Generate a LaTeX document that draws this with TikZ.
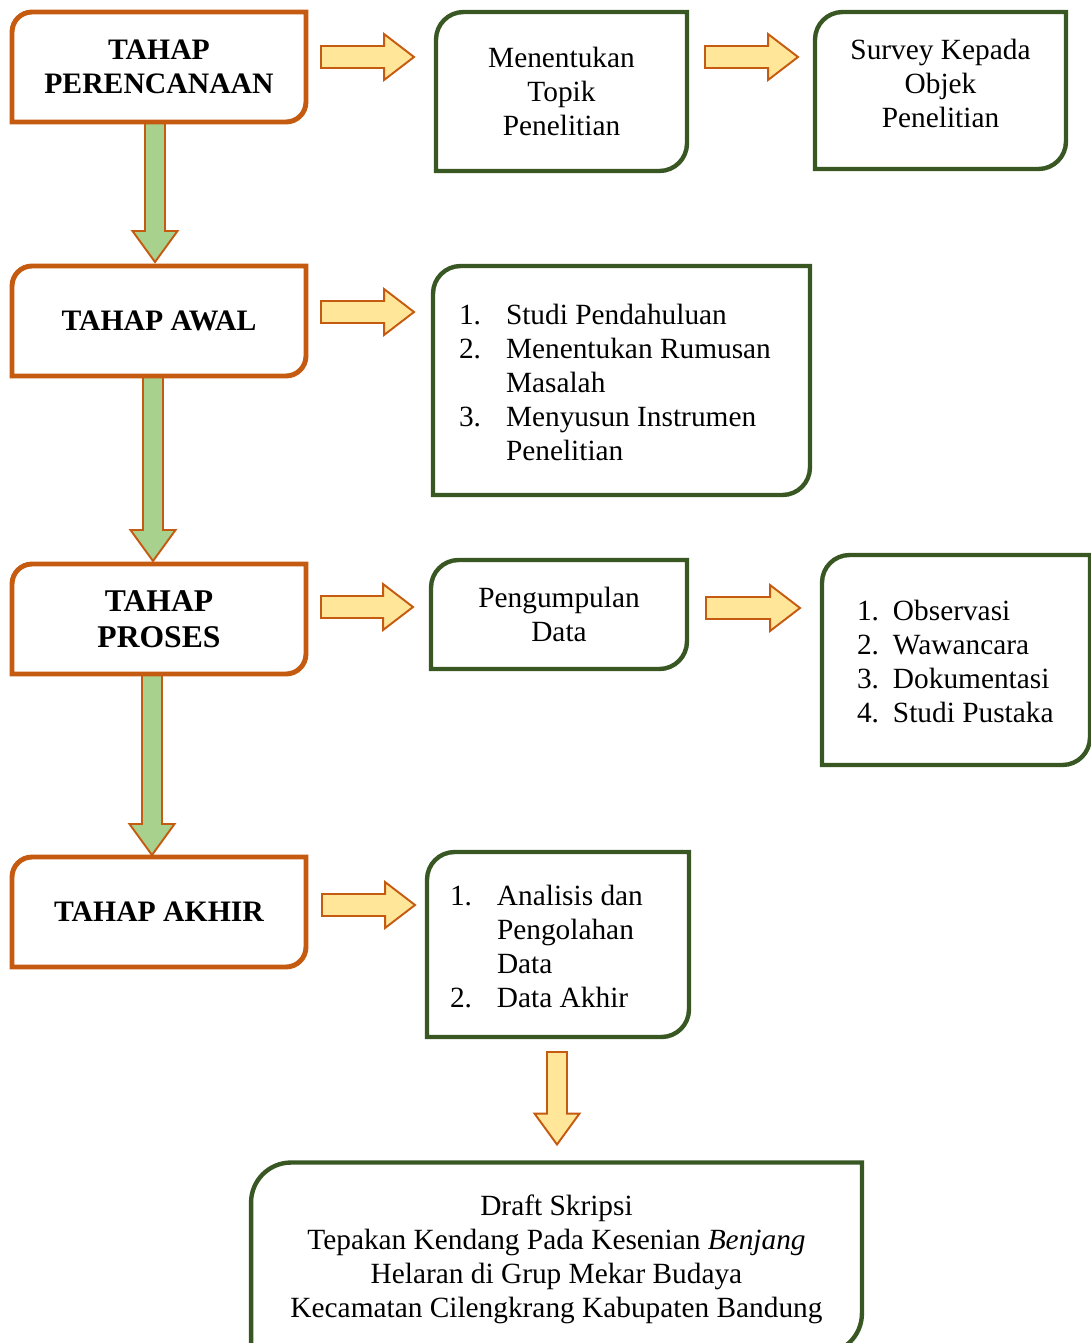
\documentclass[tikz,border=0pt]{standalone}
\usepackage{fontspec}
\setmainfont{Liberation Serif}
\usetikzlibrary{calc}

\definecolor{boxorange}{HTML}{C55A11}
\definecolor{boxgreen}{HTML}{385723}
\definecolor{arrowyellow}{HTML}{FFE699}
\definecolor{arrowgreen}{HTML}{A9D18E}

% box outline: round top left and bottom right corners
\newcommand\cornerbox[3]{%
  \draw[#2] (#1.south west) -- ([yshift=-#3]#1.north west)
    arc[start angle=180,end angle=90,radius=#3] -- (#1.north east)
    -- ([yshift=#3]#1.south east)
    arc[start angle=0,end angle=-90,radius=#3] -- cycle;}
% block arrow to the right (y of start, x of end)
\newcommand\harrow[3]{%
  \draw[#1] let \p1=(#2), \p2=(#3) in
    (\x1,\y1+0.22cm) -- (\x2-0.6cm,\y1+0.22cm) -- (\x2-0.6cm,\y1+0.46cm)
    -- (\x2,\y1) -- (\x2-0.6cm,\y1-0.46cm) -- (\x2-0.6cm,\y1-0.22cm)
    -- (\x1,\y1-0.22cm) -- cycle;}
% block arrow downwards (x of start, y of end)
\newcommand\varrow[3]{%
  \draw[#1] let \p1=(#2), \p2=(#3) in
    (\x1-0.2cm,\y1) -- (\x1-0.2cm,\y2+0.62cm) -- (\x1-0.45cm,\y2+0.62cm)
    -- (\x1,\y2) -- (\x1+0.45cm,\y2+0.62cm) -- (\x1+0.2cm,\y2+0.62cm)
    -- (\x1+0.2cm,\y1) -- cycle;}
% move text up or down inside its box
\newcommand\shifttext[2]{\raisebox{#1}[\height][\depth]{#2}}

\tikzset{
  stage/.style={minimum width=5.88cm, minimum height=2.2cm, inner sep=0pt,
    outer sep=0pt, align=center, font=\bfseries\fontsize{16.9}{19.3}\selectfont},
  task/.style={inner sep=0pt, outer sep=0pt, align=center,
    font=\fontsize{16.7}{19.35}\selectfont},
  oline/.style={draw=boxorange, line width=2.8pt},
  gline/.style={draw=boxgreen, line width=2.5pt},
  yarrow/.style={fill=arrowyellow, draw=boxorange, line width=1.1pt},
  garrow/.style={fill=arrowgreen, draw=boxorange, line width=1.1pt},
}

\begin{document}
\begin{tikzpicture}[x=0.02cm, y=-0.02cm]
  \useasboundingbox (0,0) rectangle (1091,1343);

  % stages
  \node[stage] (perencanaan) at (159,67) {TAHAP\\PERENCANAAN};
  \node[stage] (awal) at (159,321) {TAHAP AWAL};
  \node[stage, font=\bfseries\fontsize{18}{20.4}\selectfont] (proses) at (159,619) {TAHAP\\PROSES};
  \node[stage] (akhir) at (159,912) {TAHAP AKHIR};

  % tasks
  \node[task, minimum width=5.02cm, minimum height=3.18cm] (topik) at (561.5,91.5)
    {Menentukan\\Topik\\Penelitian};
  \node[task, minimum width=5.02cm, minimum height=3.14cm] (survey) at (940.5,90.5)
    {\shifttext{0.08cm}{\begin{tabular}{@{}c@{}}
      Survey Kepada\\Objek\\Penelitian
    \end{tabular}}};
  \node[task, minimum width=7.54cm, minimum height=4.58cm] (studi) at (621.5,380.5)
    {\shifttext{-0.1cm}{\begin{tabular}{@{}p{0.94cm}@{}p{5.56cm}@{}}
      1. & Studi Pendahuluan\\
      2. & Menentukan Rumusan\newline Masalah\\
      3. & Menyusun Instrumen\newline Penelitian
    \end{tabular}}};
  \node[task, minimum width=5.12cm, minimum height=2.18cm] (pengumpulan) at (559,614.5)
    {Pengumpulan\\Data};
  \node[task, minimum width=5.36cm, minimum height=4.2cm] (teknik) at (956,660)
    {\shifttext{-0.1cm}{\begin{tabular}{@{}p{0.72cm}@{}p{3.24cm}@{}}
      1. & Observasi\\
      2. & Wawancara\\
      3. & Dokumentasi\\
      4. & Studi Pustaka
    \end{tabular}}};
  \node[task, minimum width=5.24cm, minimum height=3.7cm] (analisis) at (558,944.5)
    {\shifttext{-0.1cm}{\begin{tabular}{@{}p{0.94cm}@{}p{3.38cm}@{}}
      1. & Analisis dan\newline Pengolahan\newline Data\\
      2. & Data Akhir
    \end{tabular}}};
  \node[task, minimum width=12.22cm, minimum height=3.82cm] (draft) at (556.5,1258)
    {\shifttext{-0.04cm}{\begin{tabular}{@{}c@{}}
     Draft Skripsi\\
     Tepakan Kendang Pada Kesenian \textit{Benjang}\\
     Helaran di Grup Mekar Budaya\\
     Kecamatan Cilengkrang Kabupaten Bandung
    \end{tabular}}};

  % arrows between stages
  \varrow{garrow}{$(perencanaan.south)+(-4,0)$}{$(awal.north)+(0,-4)$}
  \varrow{garrow}{$(awal.south)+(-6,0)$}{$(proses.north)+(0,-3)$}
  \varrow{garrow}{$(proses.south)+(-7,0)$}{$(akhir.north)+(0,-2)$}

  % arrows to the tasks
  \harrow{yarrow}{$(perencanaan.east)+(15,-10)$}{$(topik.west)+(-22,0)$}
  \harrow{yarrow}{$(topik.east)+(18,-34.5)$}{$(survey.west)+(-17,0)$}
  \harrow{yarrow}{$(awal.east)+(15,-9)$}{$(studi.west)+(-19,0)$}
  \harrow{yarrow}{$(proses.east)+(15,-12)$}{$(pengumpulan.west)+(-18,0)$}
  \harrow{yarrow}{$(pengumpulan.east)+(19,-6.5)$}{$(teknik.west)+(-22,0)$}
  \harrow{yarrow}{$(akhir.east)+(16,-7)$}{$(analisis.west)+(-12,0)$}
  \varrow{yarrow}{$(analisis.south)+(-1,15)$}{$(draft.north)+(0,-18)$}

  % outlines
  \foreach \n in {perencanaan,awal,proses,akhir}
    {\cornerbox{\n}{oline}{0.4cm}}
  \foreach \n in {topik,survey,studi,pengumpulan,teknik,analisis}
    {\cornerbox{\n}{gline}{0.55cm}}
  \cornerbox{draft}{gline}{0.8cm}
\end{tikzpicture}
\end{document}
